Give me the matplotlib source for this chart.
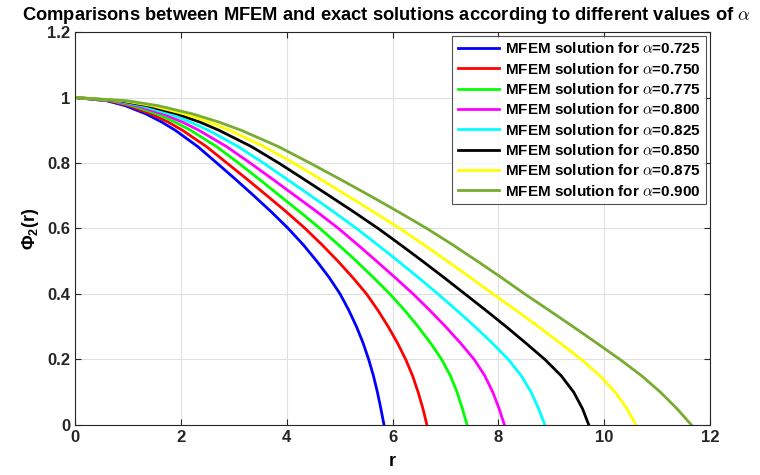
import numpy as np
import matplotlib
matplotlib.use('Agg')
import matplotlib.pyplot as plt

plt.rcParams['font.family'] = ['Liberation Sans', 'DejaVu Sans']
plt.rcParams['font.weight'] = 'bold'
plt.rcParams['mathtext.fontset'] = 'custom'
plt.rcParams['mathtext.rm'] = 'Liberation Sans:bold'
plt.rcParams['mathtext.bf'] = 'Liberation Sans:bold'

# valores: r donde cada curva cruza los niveles de Phi_2
alphas = ['0.725', '0.750', '0.775', '0.800', '0.825', '0.850', '0.875', '0.900']
niveles = [1, 0.99, 0.975, 0.95, 0.925, 0.9, 0.85, 0.8, 0.75, 0.7, 0.65, 0.6,
           0.55, 0.5, 0.45, 0.4, 0.35, 0.3, 0.25, 0.2, 0.15, 0.1, 0.05, 0]

r_725 = [0, 0.60, 0.95, 1.34, 1.64, 1.895, 2.32, 2.68, 3.035, 3.38, 3.715, 4.03,
         4.315, 4.57, 4.805, 5.01, 5.175, 5.32, 5.445, 5.55, 5.64, 5.715, 5.78, 5.84]
r_750 = [0, 0.64, 1.015, 1.435, 1.76, 2.03, 2.485, 2.87, 3.255, 3.63, 4.0, 4.35,
         4.67, 4.97, 5.25, 5.51, 5.725, 5.92, 6.095, 6.25, 6.38, 6.485, 6.575, 6.65]
r_775 = [0, 0.69, 1.09, 1.545, 1.89, 2.185, 2.675, 3.09, 3.485, 3.87, 4.255, 4.63,
         4.98, 5.32, 5.64, 5.95, 6.23, 6.485, 6.72, 6.93, 7.095, 7.22, 7.32, 7.41]
r_800 = [0, 0.74, 1.17, 1.655, 2.03, 2.34, 2.865, 3.31, 3.74, 4.16, 4.58, 4.98,
         5.345, 5.70, 6.05, 6.39, 6.705, 7.005, 7.285, 7.545, 7.745, 7.895, 8.015, 8.115]
r_825 = [0, 0.80, 1.26, 1.78, 2.18, 2.52, 3.085, 3.56, 4.01, 4.455, 4.895, 5.32,
         5.72, 6.11, 6.49, 6.86, 7.215, 7.56, 7.885, 8.19, 8.435, 8.62, 8.76, 8.88]
r_850 = [0, 0.86, 1.36, 1.925, 2.36, 2.72, 3.335, 3.85, 4.33, 4.805, 5.275, 5.73,
         6.155, 6.57, 6.975, 7.37, 7.765, 8.15, 8.52, 8.88, 9.19, 9.425, 9.59, 9.71]
r_875 = [0, 0.92, 1.46, 2.065, 2.53, 2.92, 3.575, 4.13, 4.645, 5.15, 5.65, 6.14,
         6.595, 7.04, 7.475, 7.90, 8.335, 8.76, 9.17, 9.57, 9.92, 10.21, 10.43, 10.60]
r_900 = [0, 0.99, 1.57, 2.22, 2.72, 3.14, 3.845, 4.44, 5.015, 5.575, 6.12, 6.65,
         7.14, 7.605, 8.06, 8.50, 8.96, 9.415, 9.86, 10.30, 10.71, 11.065, 11.375, 11.65]

R = [r_725, r_750, r_775, r_800, r_825, r_850, r_875, r_900]
colores = ['#0000ff', '#ff0000', '#00ff00', '#ff00ff', '#00ffff', '#000000', '#ffff00', '#77ac30']

xticks = [0, 2, 4, 6, 8, 10, 12]
yticks = [0, 0.2, 0.4, 0.6, 0.8, 1, 1.2]
yticklabels = ['0', '0.2', '0.4', '0.6', '0.8', '1', '1.2']

fig = plt.figure(figsize=(7.6, 4.75), dpi=100)
ax = fig.add_axes([0.0987, 0.1053, 0.8355, 0.8273])

for i in range(len(R)):
    ax.plot(R[i], niveles, '-', color=colores[i], lw=2, solid_joinstyle='round',
            label=r'MFEM solution for $\alpha$=' + alphas[i])

ax.set_xlim(0, 12)
ax.set_ylim(0, 1.2)
ax.set_xticks(xticks)
ax.set_yticks(yticks)
ax.set_yticklabels(yticklabels)
ax.tick_params(direction='in', length=4, labelsize=12, top=True, right=True,
               color='#262626', labelcolor='#262626')
for s in ax.spines.values():
    s.set_color('#262626')
    s.set_linewidth(0.8)
ax.grid(True, color='#e0e0e0', lw=0.8)
ax.set_axisbelow(True)

ax.set_xlabel('r', fontsize=13, fontweight='bold', labelpad=6)
ax.set_ylabel(r'$\Phi_2$(r)', fontsize=13, fontweight='bold')
tit = ax.set_title(r'Comparisons between MFEM and exact solutions according to different values of $\alpha$',
                   fontsize=13.2, fontweight='bold', pad=9, x=0.49)
tit.set_math_fontfamily('cm')

leg = ax.legend(loc='upper right', fontsize=11, frameon=True, fancybox=False,
                edgecolor='#262626', handlelength=2.7, handletextpad=0.4,
                labelspacing=0.35, borderaxespad=0.25, borderpad=0.35)
leg.get_frame().set_linewidth(0.8)
for t in leg.get_texts():
    t.set_math_fontfamily('cm')

plt.savefig('out.png')
